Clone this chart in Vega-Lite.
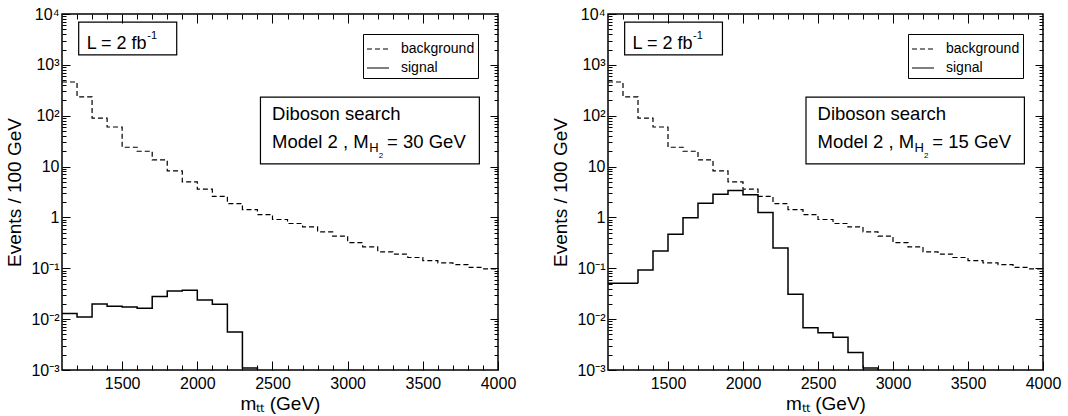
{
  "$schema": "https://vega.github.io/schema/vega-lite/v6.json",
  "padding": {"left": 5, "top": 5, "right": 5, "bottom": 0},
  "spacing": 34,
  "config": {
    "font": "Liberation Sans",
    "view": {"stroke": "black", "strokeWidth": 1.5},
    "axis": {"grid": false, "domain": false, "tickColor": "black", "tickWidth": 1, "labelColor": "black", "titleColor": "black", "titleFontWeight": "normal", "labelFlush": false}
  },
  "datasets": {
    "one": [{}],
    "bg": [
      {"series": "background", "lo": 1100, "v": 460},
      {"series": "background", "lo": 1200, "v": 235},
      {"series": "background", "lo": 1300, "v": 90},
      {"series": "background", "lo": 1400, "v": 60},
      {"series": "background", "lo": 1500, "v": 24},
      {"series": "background", "lo": 1600, "v": 20},
      {"series": "background", "lo": 1700, "v": 13.5},
      {"series": "background", "lo": 1800, "v": 8.2},
      {"series": "background", "lo": 1900, "v": 5.0},
      {"series": "background", "lo": 2000, "v": 3.6},
      {"series": "background", "lo": 2100, "v": 2.6},
      {"series": "background", "lo": 2200, "v": 1.87},
      {"series": "background", "lo": 2300, "v": 1.43},
      {"series": "background", "lo": 2400, "v": 1.14},
      {"series": "background", "lo": 2500, "v": 0.91},
      {"series": "background", "lo": 2600, "v": 0.76},
      {"series": "background", "lo": 2700, "v": 0.65},
      {"series": "background", "lo": 2800, "v": 0.52},
      {"series": "background", "lo": 2900, "v": 0.43},
      {"series": "background", "lo": 3000, "v": 0.32},
      {"series": "background", "lo": 3100, "v": 0.264},
      {"series": "background", "lo": 3200, "v": 0.21},
      {"series": "background", "lo": 3300, "v": 0.19},
      {"series": "background", "lo": 3400, "v": 0.163},
      {"series": "background", "lo": 3500, "v": 0.141},
      {"series": "background", "lo": 3600, "v": 0.128},
      {"series": "background", "lo": 3700, "v": 0.118},
      {"series": "background", "lo": 3800, "v": 0.104},
      {"series": "background", "lo": 3900, "v": 0.097},
      {"series": "background", "lo": 4000, "v": 0.097}
    ],
    "sigA": [
      {"series": "signal", "lo": 1100, "v": 0.0129},
      {"series": "signal", "lo": 1200, "v": 0.011},
      {"series": "signal", "lo": 1300, "v": 0.0199},
      {"series": "signal", "lo": 1400, "v": 0.0179},
      {"series": "signal", "lo": 1500, "v": 0.0174},
      {"series": "signal", "lo": 1600, "v": 0.0164},
      {"series": "signal", "lo": 1700, "v": 0.028},
      {"series": "signal", "lo": 1800, "v": 0.0356},
      {"series": "signal", "lo": 1900, "v": 0.037},
      {"series": "signal", "lo": 2000, "v": 0.0238},
      {"series": "signal", "lo": 2100, "v": 0.0196},
      {"series": "signal", "lo": 2200, "v": 0.0056},
      {"series": "signal", "lo": 2300, "v": 0.0011},
      {"series": "signal", "lo": 2400, "v": 0.001}
    ],
    "sigB": [
      {"series": "signal", "lo": 1100, "v": 0.051},
      {"series": "signal", "lo": 1200, "v": 0.051},
      {"series": "signal", "lo": 1300, "v": 0.093},
      {"series": "signal", "lo": 1400, "v": 0.218},
      {"series": "signal", "lo": 1500, "v": 0.468},
      {"series": "signal", "lo": 1600, "v": 0.99},
      {"series": "signal", "lo": 1700, "v": 1.9},
      {"series": "signal", "lo": 1800, "v": 2.85},
      {"series": "signal", "lo": 1900, "v": 3.37},
      {"series": "signal", "lo": 2000, "v": 2.8},
      {"series": "signal", "lo": 2100, "v": 1.25},
      {"series": "signal", "lo": 2200, "v": 0.25},
      {"series": "signal", "lo": 2300, "v": 0.031},
      {"series": "signal", "lo": 2400, "v": 0.0068},
      {"series": "signal", "lo": 2500, "v": 0.0054},
      {"series": "signal", "lo": 2600, "v": 0.0044},
      {"series": "signal", "lo": 2700, "v": 0.0022},
      {"series": "signal", "lo": 2800, "v": 0.0011},
      {"series": "signal", "lo": 2900, "v": 0.001}
    ]
  },
  "resolve": {"scale": {"strokeDash": "independent"}},
  "hconcat": [
    {
      "width": 436, "height": 356,
      "resolve": {"axis": {"x": "independent", "y": "independent"}},
      "layer": [
        {
          "data": {"name": "bg"},
          "mark": {"type": "line", "interpolate": "step-after", "strokeWidth": 1.2, "color": "black", "clip": true},
          "encoding": {
            "x": {"field": "lo", "type": "quantitative", "scale": {"domain": [1100, 4000], "nice": false, "zero": false},
              "axis": {"orient": "bottom", "values": [1500, 2000, 2500, 3000, 3500, 4000], "format": "d", "tickSize": -9, "labelPadding": 14, "labelFontSize": 16, "title": "mₜₜ (GeV)", "titleFontSize": 19, "titlePadding": 3}},
            "y": {"field": "v", "type": "quantitative", "scale": {"type": "log", "domain": [0.001, 10000], "nice": false},
              "axis": {"orient": "left", "values": [0.001, 0.01, 0.1, 1, 10, 100, 1000, 10000], "tickSize": -8, "labelPadding": 11, "labelFontSize": 16,
                "labelExpr": "datum.value > 5000 ? '10⁴' : datum.value > 500 ? '10³' : datum.value > 50 ? '10²' : datum.value > 5 ? '10' : datum.value > 0.5 ? '1' : datum.value > 0.05 ? '10⁻¹' : datum.value > 0.005 ? '10⁻²' : '10⁻³'",
                "title": "Events / 100 GeV", "titleFontSize": 19, "titlePadding": 6}},
            "strokeDash": {"field": "series", "type": "nominal", "scale": {"domain": ["background", "signal"], "range": [[5, 3], [1, 0]]},
              "legend": {"title": null, "orient": "top-right", "offset": 20, "strokeColor": "black", "padding": 3, "symbolType": "stroke", "symbolSize": 484, "symbolStrokeWidth": 1.2, "symbolStrokeColor": "black", "labelFontSize": 14, "labelOffset": 11, "rowPadding": -3}}
          }
        },
        {
          "data": {"name": "sigA"},
          "mark": {"type": "line", "interpolate": "step-after", "strokeWidth": 1.5, "color": "black", "clip": true},
          "encoding": {
            "x": {"field": "lo", "type": "quantitative", "scale": {"domain": [1100, 4000], "nice": false, "zero": false},
              "axis": {"orient": "bottom", "values": [1200, 1300, 1400, 1600, 1700, 1800, 1900, 2100, 2200, 2300, 2400, 2600, 2700, 2800, 2900, 3100, 3200, 3300, 3400, 3600, 3700, 3800, 3900], "tickSize": -5, "labels": false, "title": null}},
            "y": {"field": "v", "type": "quantitative", "scale": {"type": "log", "domain": [0.001, 10000], "nice": false},
              "axis": {"orient": "left", "values": [0.002, 0.003, 0.004, 0.005, 0.006, 0.007, 0.008, 0.009, 0.02, 0.03, 0.04, 0.05, 0.06, 0.07, 0.08, 0.09, 0.2, 0.3, 0.4, 0.5, 0.6, 0.7, 0.8, 0.9, 2, 3, 4, 5, 6, 7, 8, 9, 20, 30, 40, 50, 60, 70, 80, 90, 200, 300, 400, 500, 600, 700, 800, 900, 2000, 3000, 4000, 5000, 6000, 7000, 8000, 9000], "tickSize": -4, "labels": false, "title": null}},
            "strokeDash": {"field": "series", "type": "nominal"}
          }
        },
        {
          "data": {"name": "one"},
          "mark": {"type": "rect", "filled": false, "color": "black", "strokeWidth": 1.2},
          "encoding": {
            "x": {"datum": 1211, "type": "quantitative", "scale": {"domain": [1100, 4000], "nice": false, "zero": false},
              "axis": {"orient": "top", "values": [1500, 2000, 2500, 3000, 3500], "tickSize": -9, "labels": false, "title": null}},
            "x2": {"datum": 1863},
            "y": {"datum": 6900, "type": "quantitative", "scale": {"type": "log", "domain": [0.001, 10000], "nice": false},
              "axis": {"orient": "right", "values": [0.01, 0.1, 1, 10, 100, 1000], "tickSize": -8, "labels": false, "title": null}},
            "y2": {"datum": 1575}
          }
        },
        {
          "data": {"name": "one"},
          "mark": {"type": "rect", "filled": false, "color": "black", "strokeWidth": 1.2},
          "encoding": {
            "x": {"datum": 2420, "type": "quantitative", "scale": {"domain": [1100, 4000], "nice": false, "zero": false},
              "axis": {"orient": "top", "values": [1200, 1300, 1400, 1600, 1700, 1800, 1900, 2100, 2200, 2300, 2400, 2600, 2700, 2800, 2900, 3100, 3200, 3300, 3400, 3600, 3700, 3800, 3900], "tickSize": -5, "labels": false, "title": null}},
            "x2": {"datum": 3876},
            "y": {"datum": 231, "type": "quantitative", "scale": {"type": "log", "domain": [0.001, 10000], "nice": false},
              "axis": {"orient": "right", "values": [0.002, 0.003, 0.004, 0.005, 0.006, 0.007, 0.008, 0.009, 0.02, 0.03, 0.04, 0.05, 0.06, 0.07, 0.08, 0.09, 0.2, 0.3, 0.4, 0.5, 0.6, 0.7, 0.8, 0.9, 2, 3, 4, 5, 6, 7, 8, 9, 20, 30, 40, 50, 60, 70, 80, 90, 200, 300, 400, 500, 600, 700, 800, 900, 2000, 3000, 4000, 5000, 6000, 7000, 8000, 9000], "tickSize": -4, "labels": false, "title": null}},
            "y2": {"datum": 11.3}
          }
        },
        {
          "data": {"name": "one"},
          "mark": {"type": "text", "align": "left", "baseline": "alphabetic", "fontSize": 18, "color": "black"},
          "encoding": {
            "x": {"datum": 1264, "type": "quantitative", "scale": {"domain": [1100, 4000], "nice": false, "zero": false}, "axis": null},
            "y": {"datum": 2066, "type": "quantitative", "scale": {"type": "log", "domain": [0.001, 10000], "nice": false}, "axis": null},
            "text": {"value": "L = 2 fb"}
          }
        },
        {
          "data": {"name": "one"},
          "mark": {"type": "text", "align": "left", "baseline": "alphabetic", "fontSize": 11, "color": "black"},
          "encoding": {
            "x": {"datum": 1667, "type": "quantitative", "scale": {"domain": [1100, 4000], "nice": false, "zero": false}, "axis": null},
            "y": {"datum": 3296, "type": "quantitative", "scale": {"type": "log", "domain": [0.001, 10000], "nice": false}, "axis": null},
            "text": {"value": "-1"}
          }
        },
        {
          "data": {"name": "one"},
          "mark": {"type": "text", "align": "left", "baseline": "alphabetic", "fontSize": 18.5, "color": "black"},
          "encoding": {
            "x": {"datum": 2497, "type": "quantitative", "scale": {"domain": [1100, 4000], "nice": false, "zero": false}, "axis": null},
            "y": {"datum": 83, "type": "quantitative", "scale": {"type": "log", "domain": [0.001, 10000], "nice": false}, "axis": null},
            "text": {"value": "Diboson search"}
          }
        },
        {
          "data": {"name": "one"},
          "mark": {"type": "text", "align": "left", "baseline": "alphabetic", "fontSize": 18.5, "color": "black"},
          "encoding": {
            "x": {"datum": 2497, "type": "quantitative", "scale": {"domain": [1100, 4000], "nice": false, "zero": false}, "axis": null},
            "y": {"datum": 23.1, "type": "quantitative", "scale": {"type": "log", "domain": [0.001, 10000], "nice": false}, "axis": null},
            "text": {"value": "Model 2 , M"}
          }
        },
        {
          "data": {"name": "one"},
          "mark": {"type": "text", "align": "left", "baseline": "alphabetic", "fontSize": 13, "color": "black"},
          "encoding": {
            "x": {"datum": 3143, "type": "quantitative", "scale": {"domain": [1100, 4000], "nice": false, "zero": false}, "axis": null},
            "y": {"datum": 19.7, "type": "quantitative", "scale": {"type": "log", "domain": [0.001, 10000], "nice": false}, "axis": null},
            "text": {"value": "H"}
          }
        },
        {
          "data": {"name": "one"},
          "mark": {"type": "text", "align": "left", "baseline": "alphabetic", "fontSize": 8, "color": "black"},
          "encoding": {
            "x": {"datum": 3207, "type": "quantitative", "scale": {"domain": [1100, 4000], "nice": false, "zero": false}, "axis": null},
            "y": {"datum": 15.0, "type": "quantitative", "scale": {"type": "log", "domain": [0.001, 10000], "nice": false}, "axis": null},
            "text": {"value": "2"}
          }
        },
        {
          "data": {"name": "one"},
          "mark": {"type": "text", "align": "left", "baseline": "alphabetic", "fontSize": 18.5, "color": "black"},
          "encoding": {
            "x": {"datum": 3262, "type": "quantitative", "scale": {"domain": [1100, 4000], "nice": false, "zero": false}, "axis": null},
            "y": {"datum": 23.1, "type": "quantitative", "scale": {"type": "log", "domain": [0.001, 10000], "nice": false}, "axis": null},
            "text": {"value": "= 30 GeV"}
          }
        }
      ]
    },
    {
      "width": 435, "height": 356,
      "resolve": {"axis": {"x": "independent", "y": "independent"}},
      "layer": [
        {
          "data": {"name": "bg"},
          "mark": {"type": "line", "interpolate": "step-after", "strokeWidth": 1.2, "color": "black", "clip": true},
          "encoding": {
            "x": {"field": "lo", "type": "quantitative", "scale": {"domain": [1100, 4000], "nice": false, "zero": false},
              "axis": {"orient": "bottom", "values": [1500, 2000, 2500, 3000, 3500, 4000], "format": "d", "tickSize": -9, "labelPadding": 14, "labelFontSize": 16, "title": "mₜₜ (GeV)", "titleFontSize": 19, "titlePadding": 3}},
            "y": {"field": "v", "type": "quantitative", "scale": {"type": "log", "domain": [0.001, 10000], "nice": false},
              "axis": {"orient": "left", "values": [0.001, 0.01, 0.1, 1, 10, 100, 1000, 10000], "tickSize": -8, "labelPadding": 11, "labelFontSize": 16,
                "labelExpr": "datum.value > 5000 ? '10⁴' : datum.value > 500 ? '10³' : datum.value > 50 ? '10²' : datum.value > 5 ? '10' : datum.value > 0.5 ? '1' : datum.value > 0.05 ? '10⁻¹' : datum.value > 0.005 ? '10⁻²' : '10⁻³'",
                "title": "Events / 100 GeV", "titleFontSize": 19, "titlePadding": 6}},
            "strokeDash": {"field": "series", "type": "nominal", "scale": {"domain": ["background", "signal"], "range": [[5, 3], [1, 0]]},
              "legend": {"title": null, "orient": "top-right", "offset": 20, "strokeColor": "black", "padding": 3, "symbolType": "stroke", "symbolSize": 484, "symbolStrokeWidth": 1.2, "symbolStrokeColor": "black", "labelFontSize": 14, "labelOffset": 11, "rowPadding": -3}}
          }
        },
        {
          "data": {"name": "sigB"},
          "mark": {"type": "line", "interpolate": "step-after", "strokeWidth": 1.5, "color": "black", "clip": true},
          "encoding": {
            "x": {"field": "lo", "type": "quantitative", "scale": {"domain": [1100, 4000], "nice": false, "zero": false},
              "axis": {"orient": "bottom", "values": [1200, 1300, 1400, 1600, 1700, 1800, 1900, 2100, 2200, 2300, 2400, 2600, 2700, 2800, 2900, 3100, 3200, 3300, 3400, 3600, 3700, 3800, 3900], "tickSize": -5, "labels": false, "title": null}},
            "y": {"field": "v", "type": "quantitative", "scale": {"type": "log", "domain": [0.001, 10000], "nice": false},
              "axis": {"orient": "left", "values": [0.002, 0.003, 0.004, 0.005, 0.006, 0.007, 0.008, 0.009, 0.02, 0.03, 0.04, 0.05, 0.06, 0.07, 0.08, 0.09, 0.2, 0.3, 0.4, 0.5, 0.6, 0.7, 0.8, 0.9, 2, 3, 4, 5, 6, 7, 8, 9, 20, 30, 40, 50, 60, 70, 80, 90, 200, 300, 400, 500, 600, 700, 800, 900, 2000, 3000, 4000, 5000, 6000, 7000, 8000, 9000], "tickSize": -4, "labels": false, "title": null}},
            "strokeDash": {"field": "series", "type": "nominal"}
          }
        },
        {
          "data": {"name": "one"},
          "mark": {"type": "rect", "filled": false, "color": "black", "strokeWidth": 1.2},
          "encoding": {
            "x": {"datum": 1211, "type": "quantitative", "scale": {"domain": [1100, 4000], "nice": false, "zero": false},
              "axis": {"orient": "top", "values": [1500, 2000, 2500, 3000, 3500], "tickSize": -9, "labels": false, "title": null}},
            "x2": {"datum": 1863},
            "y": {"datum": 6900, "type": "quantitative", "scale": {"type": "log", "domain": [0.001, 10000], "nice": false},
              "axis": {"orient": "right", "values": [0.01, 0.1, 1, 10, 100, 1000], "tickSize": -8, "labels": false, "title": null}},
            "y2": {"datum": 1575}
          }
        },
        {
          "data": {"name": "one"},
          "mark": {"type": "rect", "filled": false, "color": "black", "strokeWidth": 1.2},
          "encoding": {
            "x": {"datum": 2420, "type": "quantitative", "scale": {"domain": [1100, 4000], "nice": false, "zero": false},
              "axis": {"orient": "top", "values": [1200, 1300, 1400, 1600, 1700, 1800, 1900, 2100, 2200, 2300, 2400, 2600, 2700, 2800, 2900, 3100, 3200, 3300, 3400, 3600, 3700, 3800, 3900], "tickSize": -5, "labels": false, "title": null}},
            "x2": {"datum": 3876},
            "y": {"datum": 231, "type": "quantitative", "scale": {"type": "log", "domain": [0.001, 10000], "nice": false},
              "axis": {"orient": "right", "values": [0.002, 0.003, 0.004, 0.005, 0.006, 0.007, 0.008, 0.009, 0.02, 0.03, 0.04, 0.05, 0.06, 0.07, 0.08, 0.09, 0.2, 0.3, 0.4, 0.5, 0.6, 0.7, 0.8, 0.9, 2, 3, 4, 5, 6, 7, 8, 9, 20, 30, 40, 50, 60, 70, 80, 90, 200, 300, 400, 500, 600, 700, 800, 900, 2000, 3000, 4000, 5000, 6000, 7000, 8000, 9000], "tickSize": -4, "labels": false, "title": null}},
            "y2": {"datum": 11.3}
          }
        },
        {
          "data": {"name": "one"},
          "mark": {"type": "text", "align": "left", "baseline": "alphabetic", "fontSize": 18, "color": "black"},
          "encoding": {
            "x": {"datum": 1264, "type": "quantitative", "scale": {"domain": [1100, 4000], "nice": false, "zero": false}, "axis": null},
            "y": {"datum": 2066, "type": "quantitative", "scale": {"type": "log", "domain": [0.001, 10000], "nice": false}, "axis": null},
            "text": {"value": "L = 2 fb"}
          }
        },
        {
          "data": {"name": "one"},
          "mark": {"type": "text", "align": "left", "baseline": "alphabetic", "fontSize": 11, "color": "black"},
          "encoding": {
            "x": {"datum": 1667, "type": "quantitative", "scale": {"domain": [1100, 4000], "nice": false, "zero": false}, "axis": null},
            "y": {"datum": 3296, "type": "quantitative", "scale": {"type": "log", "domain": [0.001, 10000], "nice": false}, "axis": null},
            "text": {"value": "-1"}
          }
        },
        {
          "data": {"name": "one"},
          "mark": {"type": "text", "align": "left", "baseline": "alphabetic", "fontSize": 18.5, "color": "black"},
          "encoding": {
            "x": {"datum": 2497, "type": "quantitative", "scale": {"domain": [1100, 4000], "nice": false, "zero": false}, "axis": null},
            "y": {"datum": 83, "type": "quantitative", "scale": {"type": "log", "domain": [0.001, 10000], "nice": false}, "axis": null},
            "text": {"value": "Diboson search"}
          }
        },
        {
          "data": {"name": "one"},
          "mark": {"type": "text", "align": "left", "baseline": "alphabetic", "fontSize": 18.5, "color": "black"},
          "encoding": {
            "x": {"datum": 2497, "type": "quantitative", "scale": {"domain": [1100, 4000], "nice": false, "zero": false}, "axis": null},
            "y": {"datum": 23.1, "type": "quantitative", "scale": {"type": "log", "domain": [0.001, 10000], "nice": false}, "axis": null},
            "text": {"value": "Model 2 , M"}
          }
        },
        {
          "data": {"name": "one"},
          "mark": {"type": "text", "align": "left", "baseline": "alphabetic", "fontSize": 13, "color": "black"},
          "encoding": {
            "x": {"datum": 3143, "type": "quantitative", "scale": {"domain": [1100, 4000], "nice": false, "zero": false}, "axis": null},
            "y": {"datum": 19.7, "type": "quantitative", "scale": {"type": "log", "domain": [0.001, 10000], "nice": false}, "axis": null},
            "text": {"value": "H"}
          }
        },
        {
          "data": {"name": "one"},
          "mark": {"type": "text", "align": "left", "baseline": "alphabetic", "fontSize": 8, "color": "black"},
          "encoding": {
            "x": {"datum": 3207, "type": "quantitative", "scale": {"domain": [1100, 4000], "nice": false, "zero": false}, "axis": null},
            "y": {"datum": 15.0, "type": "quantitative", "scale": {"type": "log", "domain": [0.001, 10000], "nice": false}, "axis": null},
            "text": {"value": "2"}
          }
        },
        {
          "data": {"name": "one"},
          "mark": {"type": "text", "align": "left", "baseline": "alphabetic", "fontSize": 18.5, "color": "black"},
          "encoding": {
            "x": {"datum": 3262, "type": "quantitative", "scale": {"domain": [1100, 4000], "nice": false, "zero": false}, "axis": null},
            "y": {"datum": 23.1, "type": "quantitative", "scale": {"type": "log", "domain": [0.001, 10000], "nice": false}, "axis": null},
            "text": {"value": "= 15 GeV"}
          }
        }
      ]
    }
  ]
}
